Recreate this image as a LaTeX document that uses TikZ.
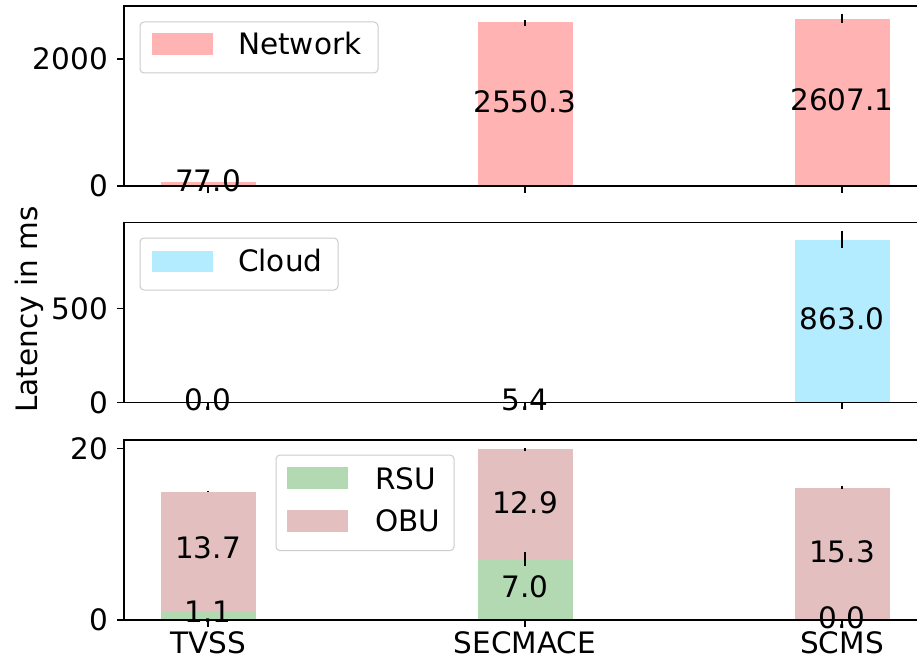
\documentclass[tikz,border=0pt]{standalone}
\usepackage{fontspec}
\setmainfont{DejaVu Sans}
\definecolor{netc}{RGB}{255,179,179}
\definecolor{cloudc}{RGB}{179,236,255}
\definecolor{rsuc}{RGB}{179,217,179}
\definecolor{obuc}{RGB}{228,191,191}
\definecolor{legc}{RGB}{204,204,204}
\begin{document}
\begin{tikzpicture}[x=1pt,y=-1pt,
  every node/.style={inner sep=0pt,font=\fontsize{29.5}{32}\selectfont},
  spine/.style={line width=1.5pt,black},
  tickmark/.style={line width=1.3pt,black},
  errbar/.style={line width=2pt,black},
  legbox/.style={draw=legc,line width=1pt,fill=white,fill opacity=0.8,rounded corners=4pt},
  ticklab/.style={anchor=east},
  barlab/.style={anchor=center},
  legtext/.style={anchor=west}]
\useasboundingbox (0,0) rectangle (917,660);
\fill[white] (0,0) rectangle (917,660);

% ---------- Panel 1: Network ----------
\fill[netc] (160.5,186) rectangle (255.5,181.7);
\fill[netc] (477.5,186) rectangle (572.5,22.3);
\fill[netc] (794.5,186) rectangle (889.5,19.3);
\draw[errbar] (525,20) -- (525,26);
\draw[errbar] (842,14) -- (842,23.3);
\draw[spine] (917,6) -- (124,6) -- (124,186) -- (917,186);
\foreach \x in {208,525,842} \draw[tickmark] (\x,186) -- (\x,193);
\draw[tickmark] (117,59) -- (124,59);
\draw[tickmark] (117,186) -- (124,186);
\node[ticklab] (t1a) at (108,59) {2000};
\node[ticklab] (t1b) at (108,186) {0};
\node[barlab] (n1) at (208,180.5) {77.0};
\node[barlab] (n2) at (525,101.7) {2550.3};
\node[barlab] (n3) at (842,100) {2607.1};
\draw[legbox] (140,22) rectangle (378,73);
\fill[netc] (152,33) rectangle (213,55);
\node[legtext] (l1) at (238,44) {Network};

% ---------- Panel 2: Cloud ----------
\fill[cloudc] (794.5,402.3) rectangle (889.5,240);
\draw[errbar] (842,230.7) -- (842,248.3);
\draw[spine] (917,222.7) -- (124,222.7) -- (124,402.3) -- (917,402.3);
\foreach \x in {208,525,842} \draw[tickmark] (\x,402.3) -- (\x,409.3);
\draw[tickmark] (117,308.3) -- (124,308.3);
\draw[tickmark] (117,402.3) -- (124,402.3);
\node[ticklab] (t2a) at (108,308.3) {500};
\node[ticklab] (t2b) at (108,402.3) {0};
\node[barlab] (c1) at (208,399.5) {0.0};
\node[barlab] (c2) at (525,399.5) {5.4};
\node[barlab] (c3) at (842,318.7) {863.0};
\draw[legbox] (140,238) rectangle (338,290);
\fill[cloudc] (152,251) rectangle (213,272);
\node[legtext] (l2) at (238,261) {Cloud};

% ---------- Panel 3: RSU / OBU ----------
\fill[rsuc] (160.5,620) rectangle (255.5,610.5);
\fill[obuc] (160.5,610.5) rectangle (255.5,491.7);
\fill[rsuc] (477.5,620) rectangle (572.5,560);
\fill[obuc] (477.5,560) rectangle (572.5,449.3);
\fill[obuc] (794.5,620) rectangle (889.5,488);
\draw[errbar] (208,490.7) -- (208,492.3);
\draw[errbar] (525,552) -- (525,566);
\draw[errbar] (525,448) -- (525,450.5);
\draw[errbar] (842,485.7) -- (842,489);
\draw[spine] (917,440) -- (124,440) -- (124,620) -- (917,620);
\foreach \x in {208,525,842} \draw[tickmark] (\x,620) -- (\x,627);
\draw[tickmark] (117,448.3) -- (124,448.3);
\draw[tickmark] (117,620) -- (124,620);
\node[ticklab] (t3a) at (108,448.3) {20};
\node[ticklab] (t3b) at (108,620) {0};
\node[barlab] (o1) at (208,548) {13.7};
\node[barlab] (r1) at (208,611.3) {1.1};
\node[barlab] (o2) at (525,502.3) {12.9};
\node[barlab] (r2) at (525,587) {7.0};
\node[barlab] (o3) at (842,551.3) {15.3};
\node[barlab] (r3) at (842,617.5) {0.0};
\draw[legbox] (276,455) rectangle (454,550.7);
\fill[rsuc] (287,467) rectangle (348,489);
\fill[obuc] (287,510) rectangle (348,532);
\node[legtext] (l3) at (375,479) {RSU};
\node[legtext] (l4) at (375,521) {OBU};

% ---------- x tick labels ----------
\node[barlab] (x1) at (208,642.5) {TVSS};
\node[barlab] (x2) at (525,642.5) {SECMACE};
\node[barlab] (x3) at (842,642.5) {SCMS};

% ---------- y label ----------
\node[rotate=90,anchor=base] (ylab) at (37,309.5) {Latency in ms};
\end{tikzpicture}
\end{document}
